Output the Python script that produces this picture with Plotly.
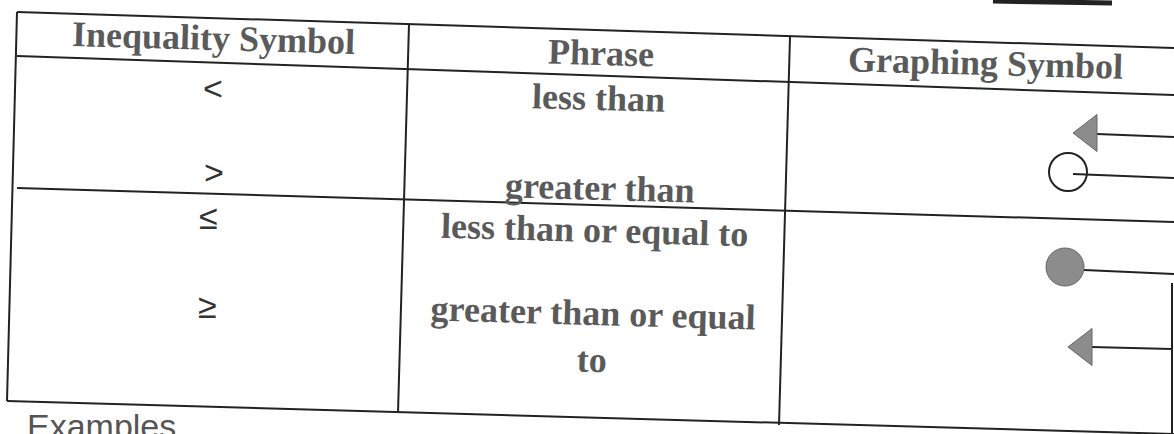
import plotly.graph_objects as go

# Table contents
headers = ["Inequality Symbol", "Phrase", "Graphing Symbol"]
symbols = ["<", ">", "≤", "≥"]
phrases = ["less than", "greater than", "less than or equal to", "greater than or equal<br>to"]
graph_marks = ["triangle-left", "circle-open", "circle", "triangle-left"]
footer = "Examples"

# Page geometry (pixels of the scanned page, slightly tilted)
W, H = 1174, 434
grid_h = [  # horizontal rules: (x0, y0, x1, y1)
    (17, 12, 1174, 48),
    (17, 56, 1174, 95),
    (17, 188, 1174, 222),
    (7, 401, 1174, 434),
]
grid_v = [  # vertical rules
    (17, 12, 7, 401),
    (409, 24, 398, 413),
    (790, 37, 779, 425),
    (1172, 283, 1172, 434),
]
header_pos = [(213, 38), (601, 53), (985, 63)]
symbol_pos = [(213, 88), (214, 172), (208, 217), (207, 306)]
phrase_pos = [(598, 98), (600, 188), (594, 230), (592, 336)]
mark_pos = [(1089, 133), (1068, 172), (1065, 267), (1084, 347)]
mark_line = [(1097, 134, 1174, 137), (1073, 174, 1174, 178),
             (1084, 270, 1174, 274), (1091, 347, 1172, 349)]

ink = "#222222"
text_gray = "#5a5a5a"
fill_gray = "#8c8c8c"
tilt = 1.6

fig = go.Figure()

for x0, y0, x1, y1 in grid_h + grid_v:
    fig.add_trace(go.Scatter(x=[x0, x1], y=[y0, y1], mode="lines",
                             line=dict(color=ink, width=2), hoverinfo="skip"))

# dark fragment at the top edge of the scan
fig.add_trace(go.Scatter(x=[993, 1112], y=[1, 3], mode="lines",
                         line=dict(color=ink, width=5), hoverinfo="skip"))

# graphing symbols: ray + endpoint marker
for (x0, y0, x1, y1), (mx, my), m in zip(mark_line, mark_pos, graph_marks):
    fig.add_trace(go.Scatter(x=[x0, x1], y=[y0, y1], mode="lines",
                             line=dict(color=ink, width=2), hoverinfo="skip"))
    is_circle = m.startswith("circle")
    fig.add_trace(go.Scatter(
        x=[mx], y=[my], mode="markers", hoverinfo="skip",
        marker=dict(symbol=m, size=38 if is_circle else 32,
                    color=ink if m == "circle-open" else fill_gray,
                    line=dict(color=ink if m == "circle-open" else "#666666",
                              width=2 if m == "circle-open" else 1))))

serif = dict(family="Liberation Serif", size=36, color=text_gray)
for txt, (x, y) in zip(headers, header_pos):
    fig.add_annotation(x=x, y=y, text="<b>%s</b>" % txt, showarrow=False,
                       font=serif, textangle=tilt, yanchor="middle")
for txt, (x, y) in zip(phrases, phrase_pos):
    fig.add_annotation(x=x, y=y, text="<b>%s</b>" % txt, showarrow=False,
                       font=serif, textangle=tilt, yanchor="middle")
for txt, (x, y) in zip(symbols, symbol_pos):
    fig.add_annotation(x=x, y=y, text=txt, showarrow=False, yanchor="middle",
                       font=dict(family="Liberation Sans", size=34, color="#333333"))

fig.add_annotation(x=25, y=426, text=footer, showarrow=False, xanchor="left",
                   yanchor="middle",
                   font=dict(family="Liberation Sans", size=34, color="#555555"))

fig.update_layout(
    width=W, height=H, margin=dict(l=0, r=0, t=0, b=0),
    paper_bgcolor="white", plot_bgcolor="white", showlegend=False,
    xaxis=dict(range=[0, W], visible=False, fixedrange=True),
    yaxis=dict(range=[H, 0], visible=False, fixedrange=True),
)

fig.write_html("out.html", config={"displayModeBar": False},
               post_script="document.body.style.margin='0';document.body.style.overflow='hidden';")
